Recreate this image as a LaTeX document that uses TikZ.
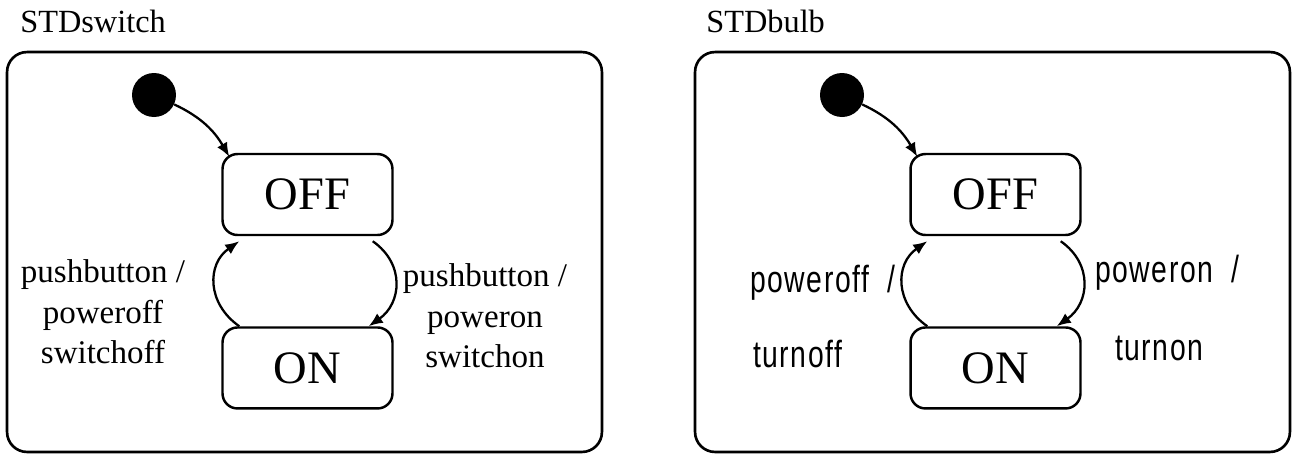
\documentclass[tikz,border=0pt]{standalone}
\usepackage{fontspec}
\setmainfont{Liberation Serif}
\newfontfamily\bulbfont[FakeStretch=0.75,LetterSpace=4]{Liberation Sans}
\usetikzlibrary{arrows.meta,positioning}

\begin{document}
\begin{tikzpicture}[x=0.02cm,y=0.02cm,node distance=3.47cm,on grid,
    >={Latex[length=8pt,width=6.5pt]},
    frame/.style={draw,line width=1.5pt,rounded corners=0.4cm,minimum width=11.9cm,minimum height=8cm,inner sep=0pt},
    state/.style={draw,line width=1.4pt,rounded corners=0.3cm,minimum width=3.4cm,minimum height=1.62cm,inner sep=0pt,font=\fontsize{26.5}{30}\selectfont},
    init/.style={circle,fill,minimum size=0.88cm,inner sep=0pt},
    title/.style={anchor=base west,inner sep=0pt,font=\fontsize{18.4}{21}\selectfont},
    trans/.style={align=center,inner sep=0pt,font=\fontsize{18.8}{23}\selectfont},
    btrans/.style={anchor=base west,inner sep=0pt,font=\bulbfont\fontsize{21.5}{25}\selectfont}]
  \useasboundingbox (0,0) rectangle (1296,-454);

  % switch
  \node[frame] (swframe) at (304.5,-252) {};
  \node[title] (swtitle) at (20,-32) {STDswitch};
  \node[init]  (swinit) at (154,-95) {};
  \node[state] (swoff) at (307.5,-194.5) {OFF};
  \node[state] (swon) [below=of swoff] {ON};
  \path[->,line width=1.3pt]
    (swinit.-25) edge [out=-25,in=120] ([xshift=.16cm,yshift=-.08cm]swoff.north west)
    ([xshift=.36cm]swon.north west) edge [out=145,in=215,looseness=1.2] ([xshift=.36cm,yshift=-.1cm]swoff.south west)
    ([xshift=-.42cm,yshift=-.1cm]swoff.south east) edge [out=-35,in=35,looseness=1.2] ([xshift=-.5cm]swon.north east);
  \node[trans] (swofftxt) at (103,-312) {pushbutton /\\poweroff\\switchoff};
  \node[trans] (swontxt) at (485,-316) {pushbutton /\\poweron\\switchon};

  % bulb
  \node[frame] (bbframe) at (992.5,-252) {};
  \node[title] (bbtitle) at (706,-32) {STDbulb};
  \node[init]  (bbinit) at (842,-95) {};
  \node[state] (bboff) at (995.5,-194.5) {OFF};
  \node[state] (bbon) [below=of bboff] {ON};
  \path[->,line width=1.3pt]
    (bbinit.-25) edge [out=-25,in=120] ([xshift=.16cm,yshift=-.08cm]bboff.north west)
    ([xshift=.36cm]bbon.north west) edge [out=145,in=215,looseness=1.2] ([xshift=.36cm,yshift=-.1cm]bboff.south west)
    ([xshift=-.42cm,yshift=-.1cm]bboff.south east) edge [out=-35,in=35,looseness=1.2] ([xshift=-.5cm]bbon.north east);
  \node[btrans] (bbpoweroff) at (750,-292) {poweroff\ \ /};
  \node[btrans] (bbturnoff) at (753,-367) {turnoff};
  \node[btrans] (bbpoweron) at (1095,-282) {poweron\ \ /};
  \node[btrans] (bbturnon) at (1115,-360) {turnon};
\end{tikzpicture}
\end{document}
